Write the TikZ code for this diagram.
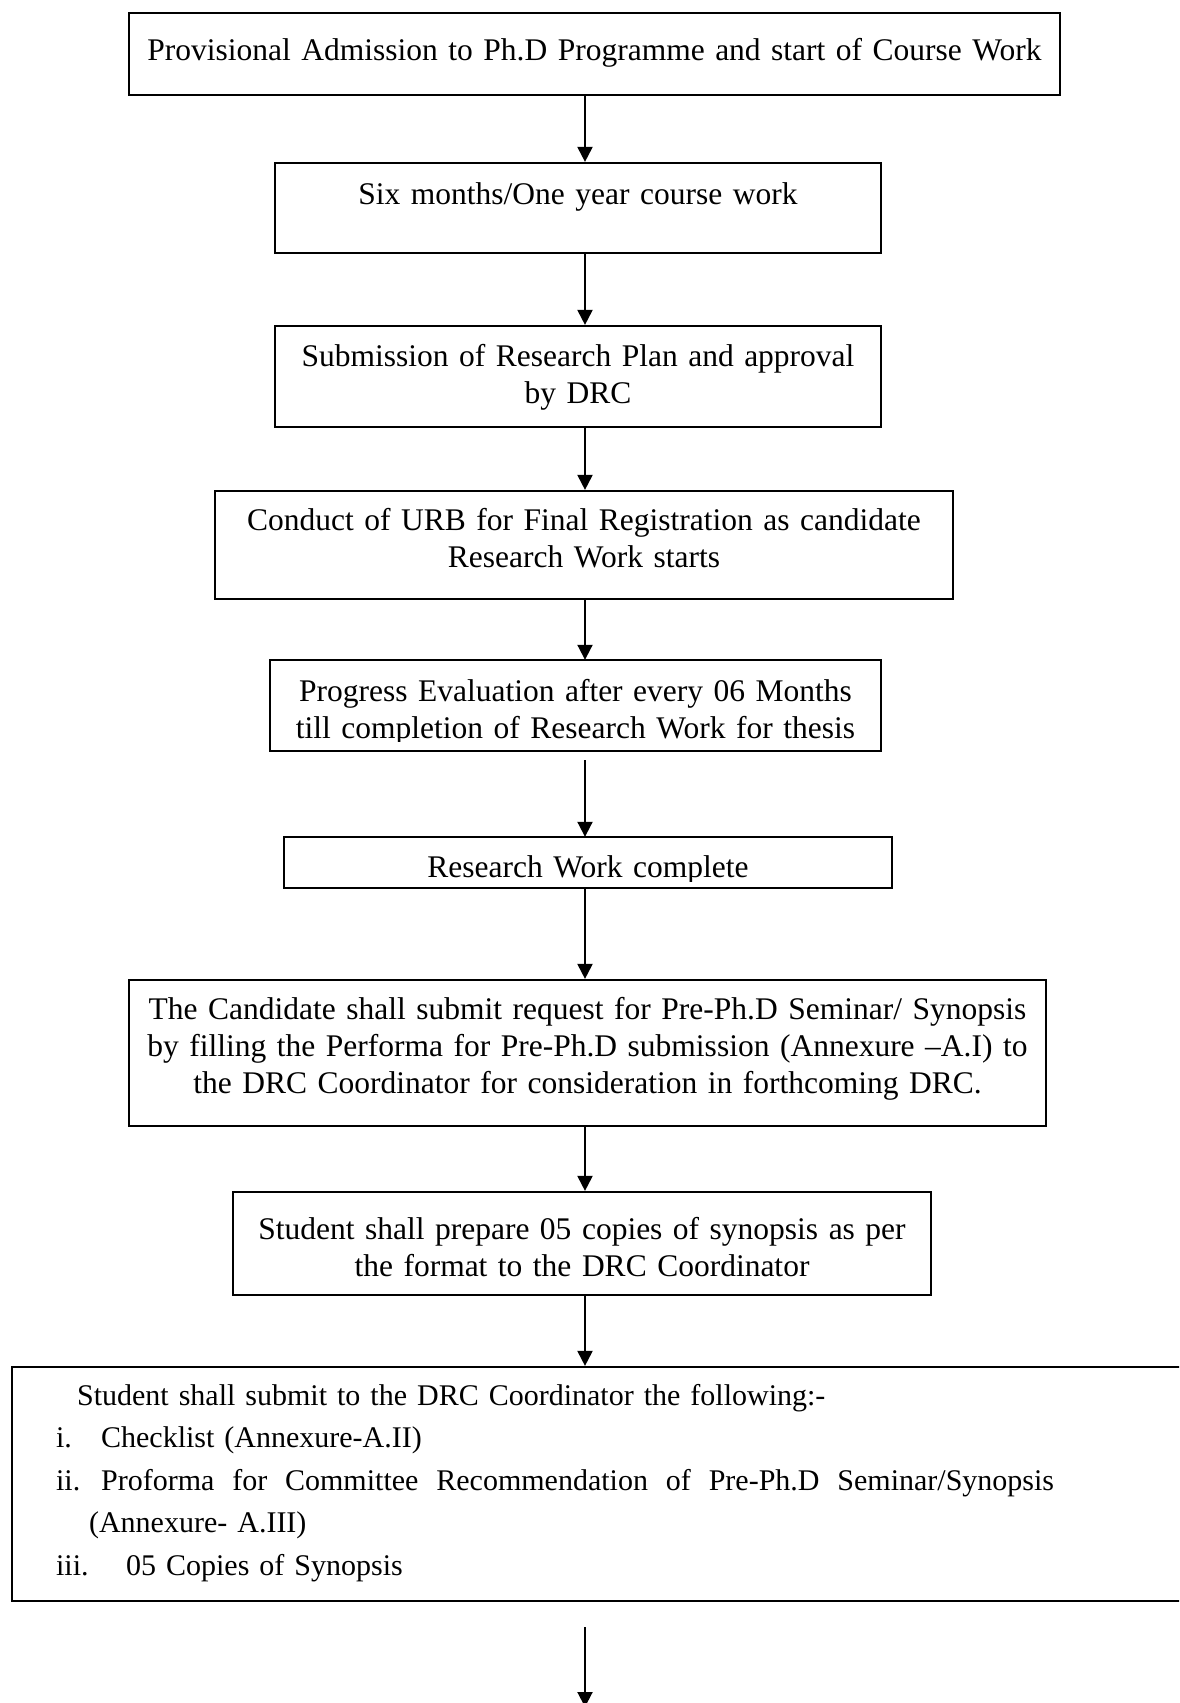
\documentclass[tikz,border=0pt]{standalone}
\usepackage{fontspec}
\setmainfont{Liberation Serif}
\usepackage{tikz}
\usetikzlibrary{arrows.meta, positioning}

\begin{document}
\begin{tikzpicture}[x=1pt, y=-1pt,
  boxtext/.style={anchor=base, inner sep=0pt, align=center,
    font=\fontsize{31.5}{37}\selectfont},
  stepbox/.style={boxtext, draw, line width=2.2pt},
  frame/.style={line width=2.2pt},
  flow/.style={line width=2pt, -{Triangle[length=15pt, width=15pt]}}]
\clip (0,0) rectangle (1179,1703);
\coordinate (spine) at (585,0);
\coordinate (end) at (585,1707);

\node[stepbox, text width=931pt, text height=47pt, text depth=35pt] (admit) at (594.5,60)
  {Provisional Admission to Ph.D Programme and start of Course Work};
\node[stepbox, text width=606pt, text height=41pt, text depth=49pt] (course) at (578,204)
  {Six months/One year course work};
\node[stepbox, text width=606pt, text height=40pt, text depth=61pt] (plan) at (578,366)
  {Submission of Research Plan and approval\\ by DRC};
\node[stepbox, text width=738pt, text height=39pt, text depth=69pt] (urb) at (584,530)
  {Conduct of URB for Final Registration as candidate\\ Research Work starts};
\begin{scope}
\clip (270,660) rectangle (881,741);
\node[boxtext, text width=611pt, text height=41pt, text depth=50pt] (progress) at (575.5,701)
  {Progress Evaluation after every 06 Months\\ till completion of Research Work for thesis};
\end{scope}
\draw[frame] (progress.north west) rectangle (progress.south east);
\begin{scope}
\clip (284,837) rectangle (892,881);
\node[boxtext, text width=608pt, text height=40pt, text depth=11pt] (complete) at (588,877)
  {Research Work complete};
\end{scope}
\draw[frame] (complete.north west) rectangle (complete.south east);
\node[stepbox, text width=917pt, text height=39pt, text depth=107pt] (request) at (587.5,1019)
  {The Candidate shall submit request for Pre-Ph.D Seminar/ Synopsis\\
   by filling the Performa for Pre-Ph.D submission (Annexure --A.I) to\\
   the DRC Coordinator for consideration in forthcoming DRC.};
\node[stepbox, text width=698pt, text height=47pt, text depth=56pt] (copies) at (582,1239)
  {Student shall prepare 05 copies of synopsis as per\\ the format to the DRC Coordinator};
\node[stepbox, anchor=base west, align=left, text width=1300pt, text height=38pt, text depth=196pt,
  font=\fontsize{30}{42.5}\selectfont] (submit) at (11,1405)
  {\hspace*{65pt}Student shall submit to the DRC Coordinator the following:-\\
   \hspace*{44pt}\makebox[45pt][l]{i.}Checklist (Annexure-A.II)\\
   \hspace*{44pt}\makebox[45pt][l]{ii.}\hbox to 953pt{\spaceskip=7.5pt plus 20pt Proforma for Committee Recommendation of Pre-Ph.D Seminar/Synopsis}\\
   \hspace*{77pt}(Annexure- A.III)\\
   \hspace*{44pt}\makebox[70pt][l]{iii.}05 Copies of Synopsis};

\draw[flow] (admit.south -| spine) -- (course.north -| spine);
\draw[flow] (course.south -| spine) -- (plan.north -| spine);
\draw[flow] (plan.south -| spine) -- (urb.north -| spine);
\draw[flow] (urb.south -| spine) -- (progress.north -| spine);
\draw[flow, shorten <=9pt] (progress.south -| spine) -- (complete.north -| spine);
\draw[flow] (complete.south -| spine) -- (request.north -| spine);
\draw[flow] (request.south -| spine) -- (copies.north -| spine);
\draw[flow] (copies.south -| spine) -- (submit.north -| spine);
\draw[flow, shorten <=25pt] (submit.south -| spine) -- (end);
\end{tikzpicture}
\end{document}
